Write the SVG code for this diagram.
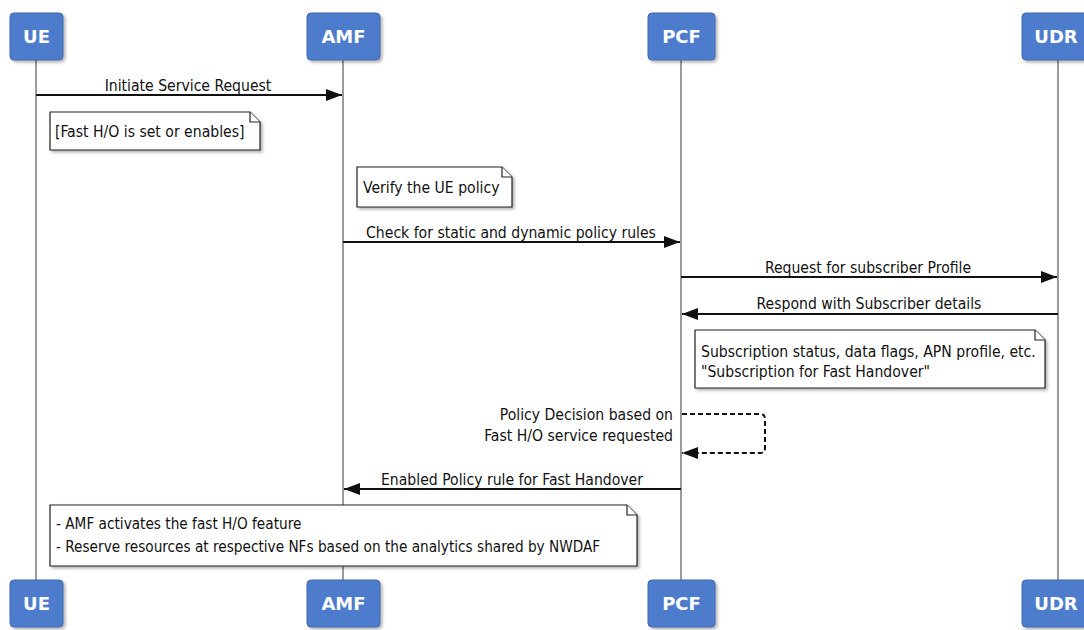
<svg xmlns="http://www.w3.org/2000/svg" width="1084" height="630" viewBox="0 0 1084 630">
<defs>
<style>
.t{font-family:"DejaVu Sans Condensed","DejaVu Sans",Verdana,sans-serif;font-stretch:condensed;font-size:15.6px;fill:#111}
.n4{font-size:15.2px}
.p{font-family:"DejaVu Sans","Open Sans",sans-serif;font-size:18px;font-weight:bold;fill:#fff}
.box{fill:#4e7ccc;stroke:#3f68b0;stroke-width:1}
.life{stroke:#9a9a9a;stroke-width:2}
.msg{stroke:#111;stroke-width:2;fill:none}
.dash{stroke:#111;stroke-width:2;fill:none;stroke-dasharray:5,3}
.note{fill:#fff;stroke:#222;stroke-width:1.2}
</style>
<marker id="ah" markerWidth="16" markerHeight="12" refX="16" refY="6" orient="auto" markerUnits="userSpaceOnUse">
<path d="M0,0 L16,6 L0,12 Z" fill="#111"/>
</marker>
<filter id="ds" x="-10%" y="-10%" width="130%" height="140%"><feDropShadow dx="2" dy="2" stdDeviation="1.5" flood-color="#000" flood-opacity=".3"/></filter>
</defs>
<rect width="1084" height="630" fill="#fff"/>
<g id="lifelines">
<line class="life" x1="36" y1="60" x2="36" y2="580"/>
<line class="life" x1="343" y1="60" x2="343" y2="580"/>
<line class="life" x1="681" y1="60" x2="681" y2="580"/>
<line class="life" x1="1058" y1="60" x2="1058" y2="580"/>
</g>
<g id="UE">
<rect class="box" x="10" y="13" width="53" height="47" rx="4" filter="url(#ds)"/>
<text class="p" x="36.5" y="43" text-anchor="middle">UE</text>
<rect class="box" x="10" y="580" width="53" height="47" rx="4" filter="url(#ds)"/>
<text class="p" x="36.5" y="610" text-anchor="middle">UE</text>
</g>
<g id="AMF">
<rect class="box" x="307" y="13" width="73" height="47" rx="4" filter="url(#ds)"/>
<text class="p" x="343.5" y="43" text-anchor="middle">AMF</text>
<rect class="box" x="307" y="580" width="73" height="47" rx="4" filter="url(#ds)"/>
<text class="p" x="343.5" y="610" text-anchor="middle">AMF</text>
</g>
<g id="PCF">
<rect class="box" x="648" y="13" width="67" height="47" rx="4" filter="url(#ds)"/>
<text class="p" x="681.5" y="43" text-anchor="middle">PCF</text>
<rect class="box" x="648" y="580" width="67" height="47" rx="4" filter="url(#ds)"/>
<text class="p" x="681.5" y="610" text-anchor="middle">PCF</text>
</g>
<g id="UDR">
<rect class="box" x="1022" y="13" width="72" height="47" rx="4" filter="url(#ds)"/>
<text class="p" x="1056" y="43" text-anchor="middle">UDR</text>
<rect class="box" x="1022" y="580" width="72" height="47" rx="4" filter="url(#ds)"/>
<text class="p" x="1056" y="610" text-anchor="middle">UDR</text>
</g>
<g id="connectors">
<line class="msg" x1="36" y1="95" x2="342" y2="95" marker-end="url(#ah)"/>
<text class="t" x="188" y="91" text-anchor="middle">Initiate Service Request</text>
<line class="msg" x1="343" y1="242" x2="680" y2="242" marker-end="url(#ah)"/>
<text class="t" x="511" y="238" text-anchor="middle">Check for static and dynamic policy rules</text>
<line class="msg" x1="681" y1="277" x2="1057" y2="277" marker-end="url(#ah)"/>
<text class="t" x="868" y="273" text-anchor="middle">Request for subscriber Profile</text>
<line class="msg" x1="1058" y1="314" x2="682" y2="314" marker-end="url(#ah)"/>
<text class="t" x="869" y="309" text-anchor="middle">Respond with Subscriber details</text>
<path class="dash" d="M682,414 H760 Q765,414 765,419 V448 Q765,453 760,453 H682" marker-end="url(#ah)"/>
<text class="t" x="673" y="420" text-anchor="end">Policy Decision based on</text>
<text class="t" x="673" y="441" text-anchor="end">Fast H/O service requested</text>
<line class="msg" x1="681" y1="489" x2="344" y2="489" marker-end="url(#ah)"/>
<text class="t" x="512" y="485" text-anchor="middle">Enabled Policy rule for Fast Handover</text>
</g>
<g id="note1">
<path class="note" d="M50,112 H250 L260,122 V150 H50 Z" filter="url(#ds)"/>
<path class="note" d="M250,112 V122 H260" fill="none"/>
<text class="t" x="55" y="137">[Fast H/O is set or enables]</text>
</g>
<g id="note2">
<path class="note" d="M357,167 H502 L512,177 V207 H357 Z" filter="url(#ds)"/>
<path class="note" d="M502,167 V177 H512" fill="none"/>
<text class="t" x="363" y="193">Verify the UE policy</text>
</g>
<g id="note3">
<path class="note" d="M695,330 H1035 L1045,340 V388 H695 Z" filter="url(#ds)"/>
<path class="note" d="M1035,330 V340 H1045" fill="none"/>
<text class="t" x="701" y="357">Subscription status, data flags, APN profile, etc.</text>
<text class="t" x="701" y="377">"Subscription for Fast Handover"</text>
</g>
<g id="note4">
<path class="note" d="M50,505 H627 L637,515 V566 H50 Z" filter="url(#ds)"/>
<path class="note" d="M627,505 V515 H637" fill="none"/>
<text class="t n4" x="56" y="529">- AMF activates the fast H/O feature</text>
<text class="t n4" x="56" y="552">- Reserve resources at respective NFs based on the analytics shared by NWDAF</text>
</g>
</svg>
